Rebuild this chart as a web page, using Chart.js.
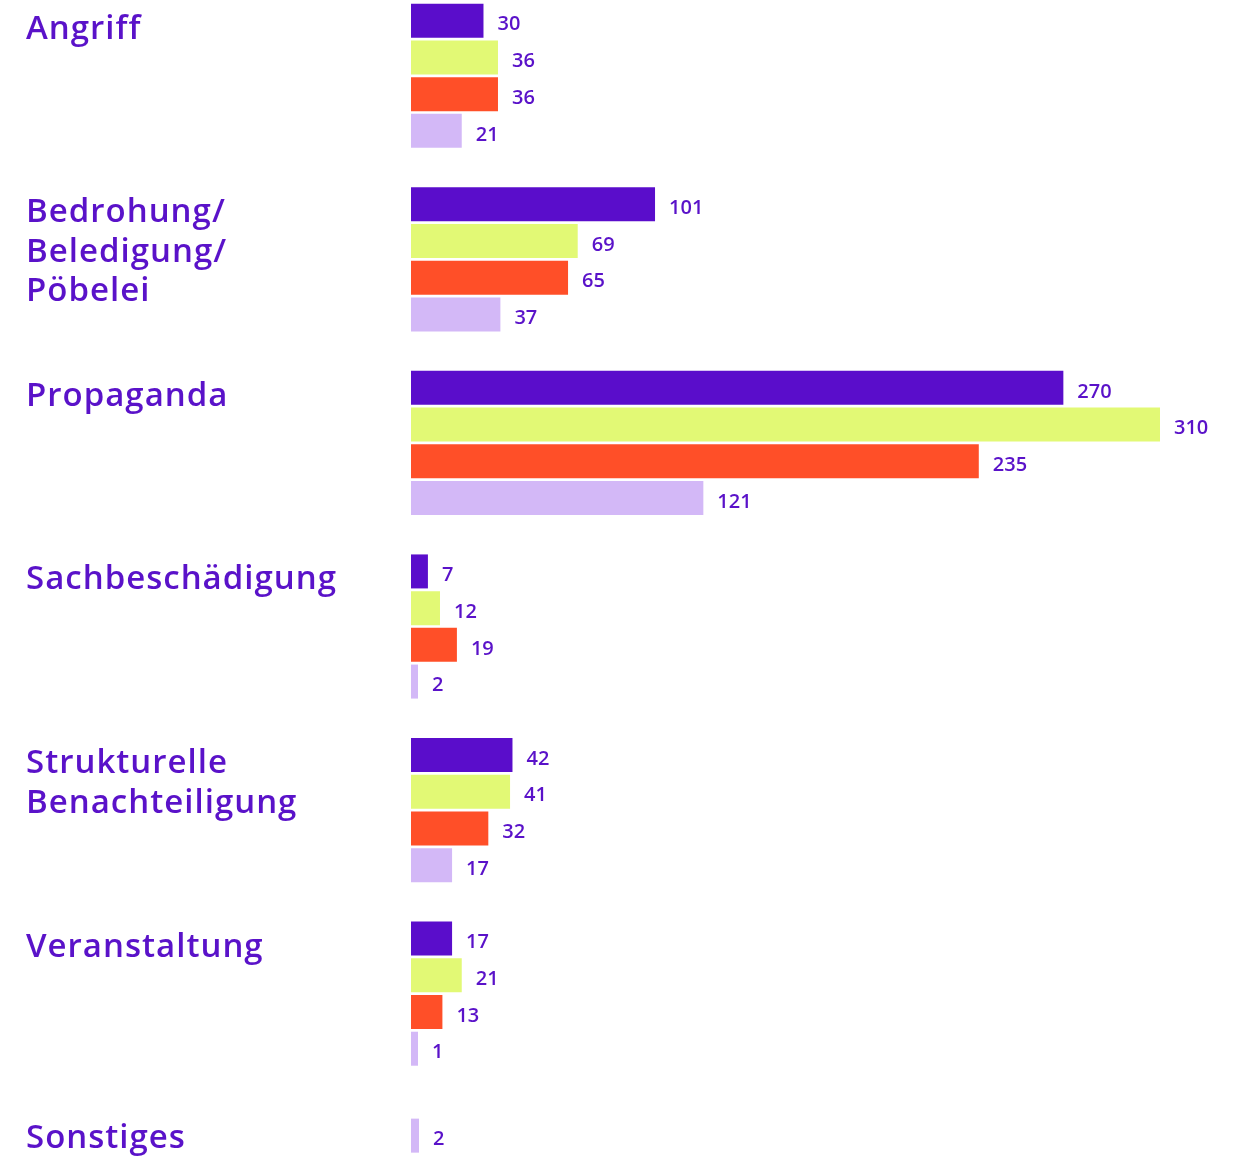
<!DOCTYPE html>
<html>
<head>
<meta charset="utf-8">
<script src="https://cdn.jsdelivr.net/npm/chart.js@4.4.1/dist/chart.umd.min.js"></script>
<style>
  html, body { margin: 0; padding: 0; background: #fff; overflow: hidden; }
  #wrap { position: absolute; left: 0; top: -16px; width: 1236px; height: 1285px; }
</style>
</head>
<body>
<div id="wrap"><canvas id="myChart"></canvas></div>
<script>
// categories (multi-line labels as arrays)
const categories = [
  ['Angriff'],
  ['Bedrohung/', 'Beledigung/', 'Pöbelei'],
  ['Propaganda'],
  ['Sachbeschädigung'],
  ['Strukturelle', 'Benachteiligung'],
  ['Veranstaltung'],
  ['Sonstiges'],
];
const seriesNames = ['Reihe 1', 'Reihe 2', 'Reihe 3', 'Reihe 4'];
const series1 = [30, 101, 270, 7, 42, 17, null];
const series2 = [36, 69, 310, 12, 41, 21, null];
const series3 = [36, 65, 235, 19, 32, 13, null];
const series4 = [21, 37, 121, 2, 17, 1, 2];
const colors = ['#5a0dcb', '#e2f975', '#ff4f28', '#d3b8f7'];
const textColor = '#5a12c9';
const fontFamily = '"Open Sans", sans-serif';

// rows where only the last series has a value: that bar moves to the top slot
const onlyLast = categories.map((c, i) => series1[i] == null && series2[i] == null && series3[i] == null);

const datasets = [series1, series2, series3, series4].map((values, i) => ({
  label: seriesNames[i],
  data: i === 3 ? values.map((v, j) => (onlyLast[j] ? null : v)) : values,
  backgroundColor: colors[i],
  stack: 's' + i,
  categoryPercentage: 0.8,
  barPercentage: 0.926,
  minBarLength: 7,
}));
// extra dataset sharing the first slot, only for the single-bar rows
datasets.push({
  label: seriesNames[3],
  data: series4.map((v, j) => (onlyLast[j] ? v : null)),
  backgroundColor: colors[3],
  stack: 's0',
  categoryPercentage: 0.604,
  barPercentage: 1.227,
  minBarLength: 8,
});

// draws value labels and the category labels on the left
const labelPlugin = {
  id: 'labelPlugin',
  afterDatasetsDraw(chart) {
    const ctx = chart.ctx;
    ctx.save();
    ctx.fillStyle = textColor;

    ctx.font = '600 20px ' + fontFamily;
    ctx.textBaseline = 'middle';
    ctx.textAlign = 'left';
    chart.data.datasets.forEach((ds, i) => {
      const meta = chart.getDatasetMeta(i);
      meta.data.forEach((bar, j) => {
        if (ds.data[j] == null) return;
        ctx.fillText(ds.data[j], bar.x + 14, bar.y + 4);
      });
    });

    ctx.font = '600 33px ' + fontFamily;
    ctx.letterSpacing = '1px';
    ctx.textBaseline = 'alphabetic';
    categories.forEach((lines, j) => {
      let top = Infinity;
      chart.data.datasets.forEach((ds, i) => {
        if (ds.data[j] == null) return;
        const bar = chart.getDatasetMeta(i).data[j];
        top = Math.min(top, bar.y - bar.height / 2);
      });
      const first = onlyLast[j] ? 29 : 35; // single-bar row sits a bit higher
      lines.forEach((line, k) => {
        ctx.fillText(line, 26, top + first + k * 39.5);
      });
    });
    ctx.restore();
  },
};

new Chart(document.getElementById('myChart'), {
  type: 'bar',
  data: {
    labels: categories.map((c) => c.join(' ')),
    datasets: datasets,
  },
  options: {
    indexAxis: 'y',
    responsive: true,
    maintainAspectRatio: false,
    animation: false,
    layout: { padding: { left: 411, right: 76, top: 0, bottom: 0 } },
    plugins: {
      legend: { display: false },
      tooltip: { enabled: false },
    },
    scales: {
      x: { display: false, min: 0, max: 310, grid: { display: false } },
      y: { display: false, grid: { display: false } },
    },
  },
  plugins: [labelPlugin],
});
</script>
</body>
</html>
